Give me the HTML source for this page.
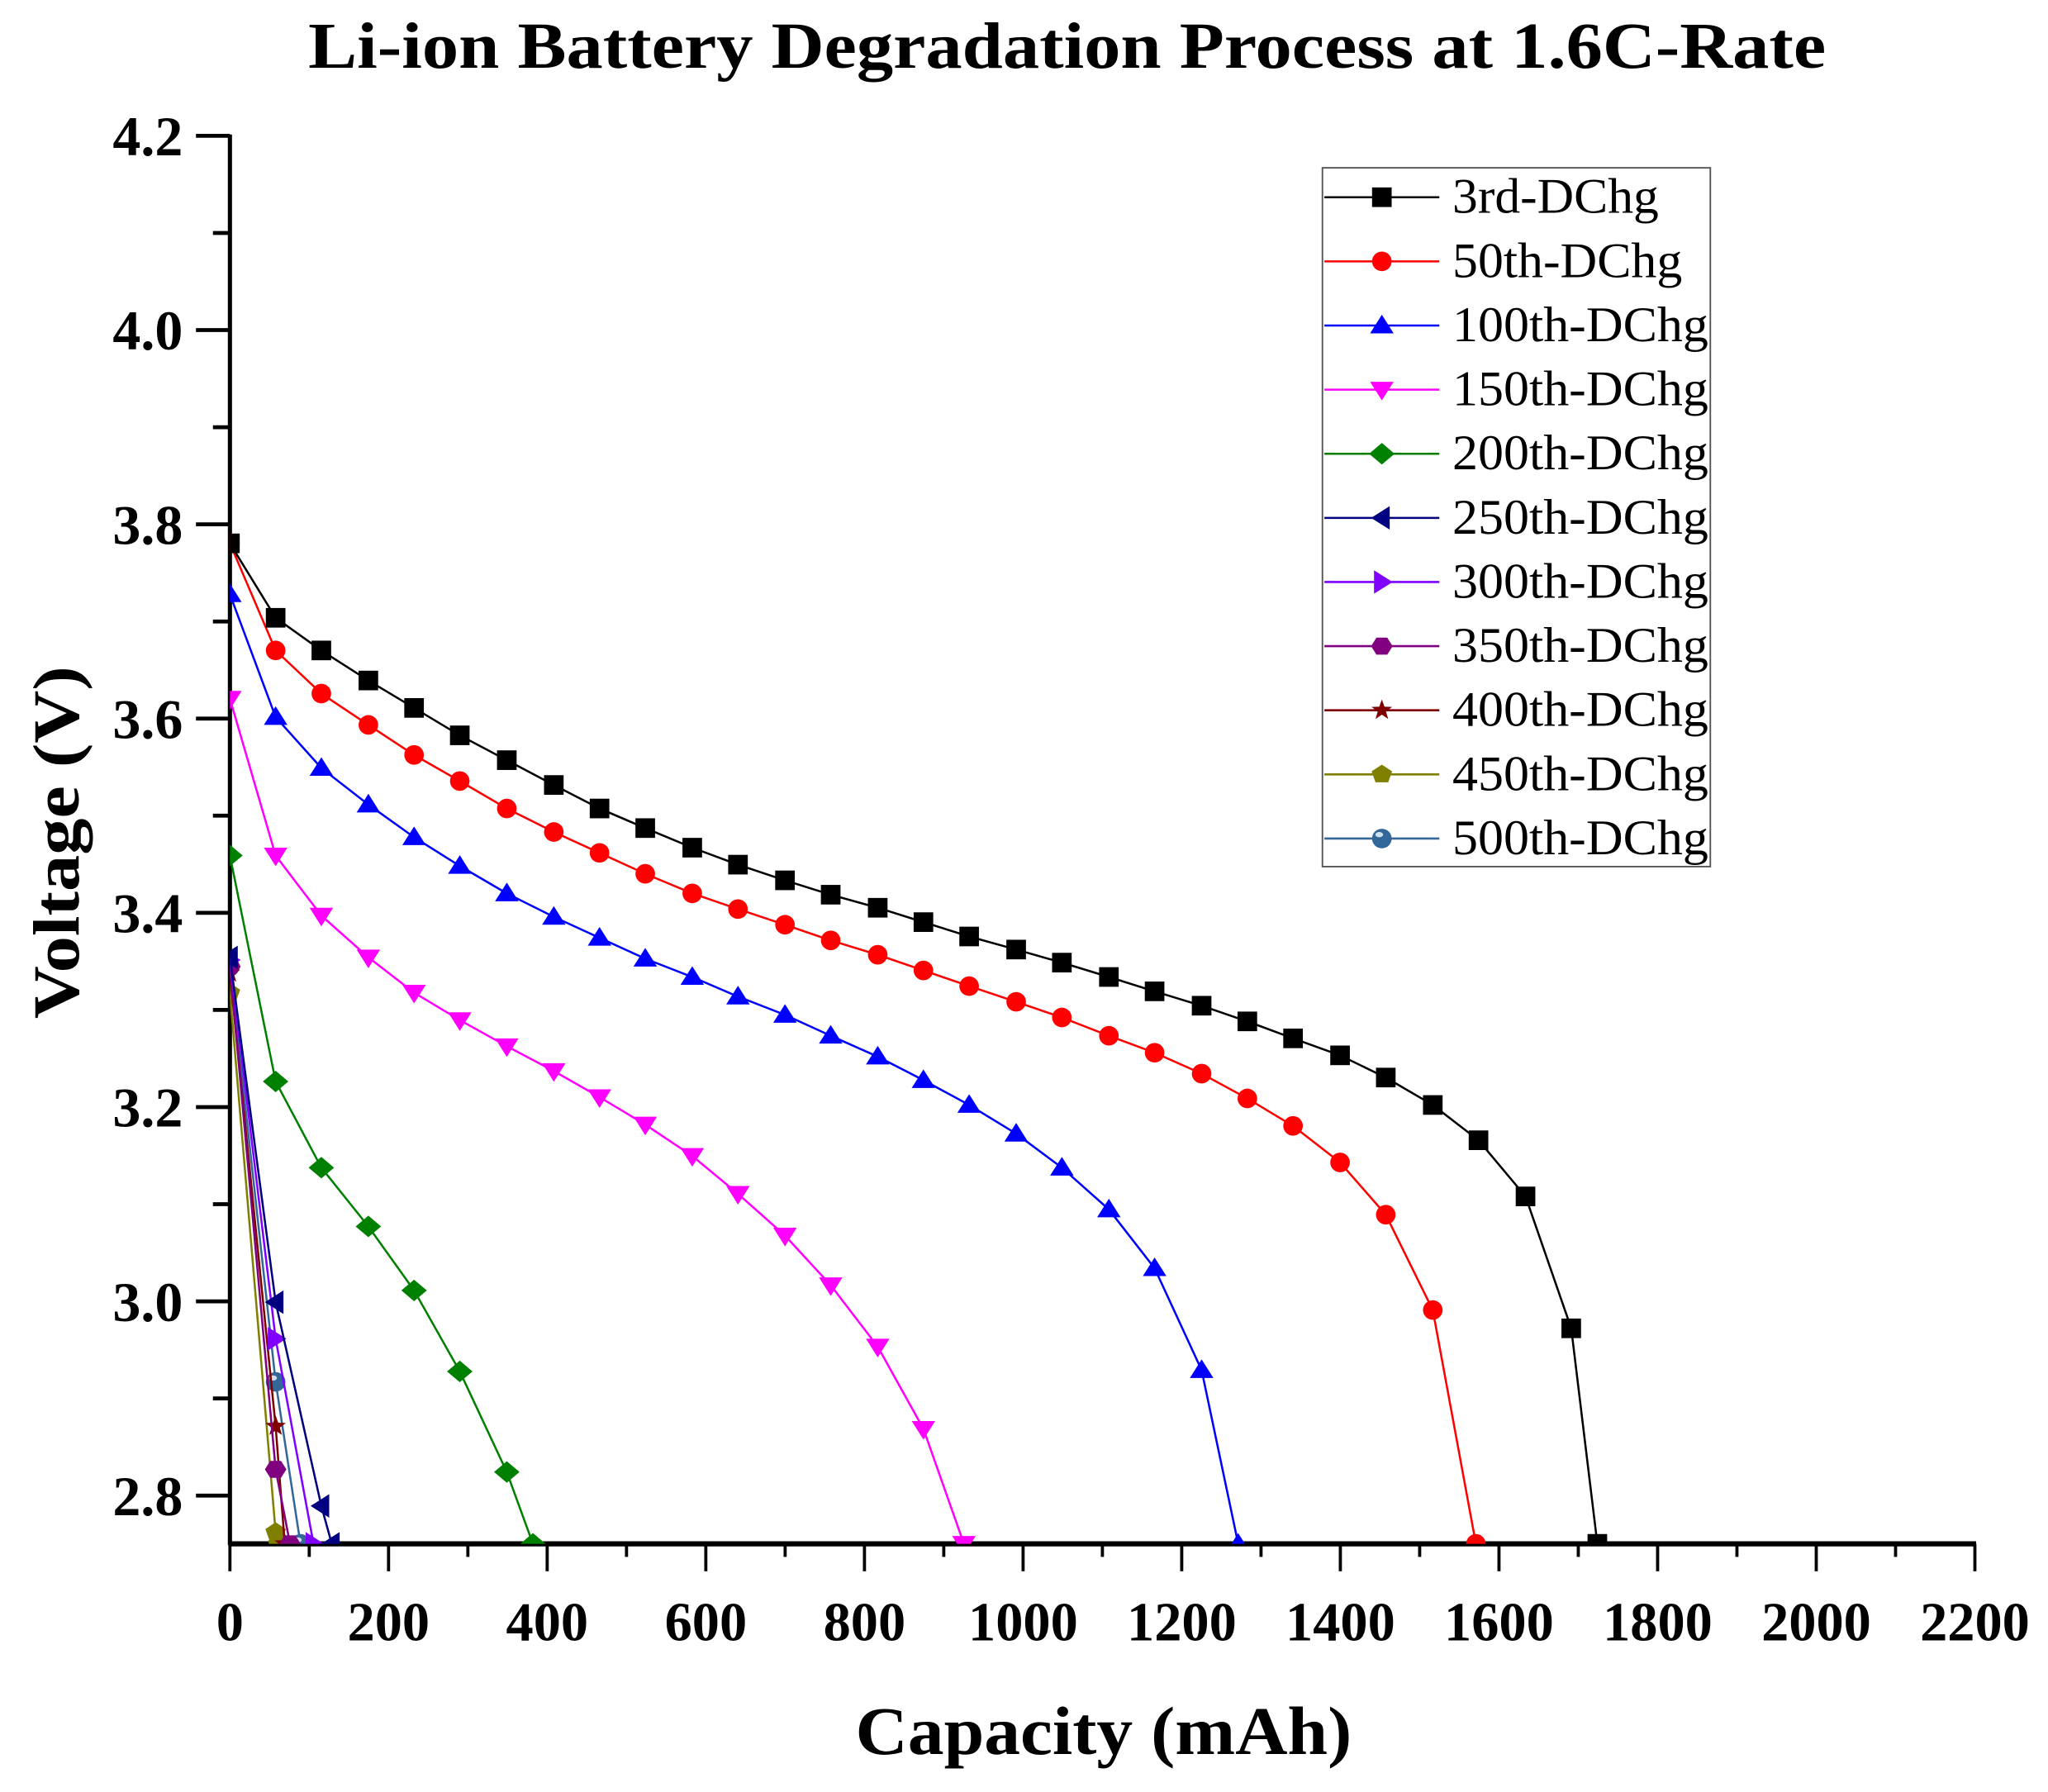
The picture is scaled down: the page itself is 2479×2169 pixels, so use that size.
<!DOCTYPE html>
<html><head><meta charset="utf-8">
<style>html,body{margin:0;padding:0;background:#fff;}svg{display:block;}</style>
</head><body>
<svg id="s" width="2479" height="2169" viewBox="0 0 1568 1372" xmlns="http://www.w3.org/2000/svg" font-family="'Liberation Serif', serif">
<defs><clipPath id="c"><rect x="176" y="60" width="1400" height="1122"/></clipPath></defs>
<text x="817" y="52" text-anchor="middle" font-size="50" font-weight="bold" textLength="1162" lengthAdjust="spacingAndGlyphs">Li-ion Battery Degradation Process at 1.6C-Rate</text>
<text transform="translate(60,645) rotate(-90)" text-anchor="middle" font-size="50" font-weight="bold" textLength="270" lengthAdjust="spacingAndGlyphs">Voltage (V)</text>
<text x="845" y="1343" text-anchor="middle" font-size="52" font-weight="bold" textLength="380" lengthAdjust="spacingAndGlyphs">Capacity (mAh)</text>
<g id="axes"></g>
<g id="data" clip-path="url(#c)"></g>
<g id="leg"></g>
</svg>
<script>
var NS="http://www.w3.org/2000/svg";
function el(p,t,a,txt){var e=document.createElementNS(NS,t);for(var k in a)e.setAttribute(k,a[k]);if(txt!==undefined)e.textContent=txt;p.appendChild(e);return e;}
var ax=document.getElementById('axes'),dg=document.getElementById('data'),lg=document.getElementById('leg');
el(ax,'line',{x1:176,y1:103,x2:176,y2:1183,stroke:'#000','stroke-width':3.2});
el(ax,'line',{x1:175,y1:1182,x2:1513,y2:1182,stroke:'#000','stroke-width':4});
for(var i=0;i<=14;i++){var v=4.2-i*0.1;var y=104+i*74.36;if(y>1183)break;var maj=(i%2==0);
 el(ax,'line',{x1:maj?150:163,y1:y,x2:176,y2:y,stroke:'#000','stroke-width':3});
 if(maj) el(ax,'text',{x:140,y:y+15,'text-anchor':'end','font-size':43,'font-weight':'bold'},v.toFixed(1));}
for(var i=0;i<=22;i++){var x=176+i*60.73;var maj=(i%2==0);
 el(ax,'line',{x1:x,y1:1182,x2:x,y2:maj?1203:1192,stroke:'#000','stroke-width':2.4});
 if(maj) el(ax,'text',{x:x,y:1256,'text-anchor':'middle','font-size':42,'font-weight':'bold'},String(i*100));}
function marker(p,type,x,y,c,r){r=r||7.5;
 var pts;
 switch(type){
 case 'sq':el(p,'rect',{x:x-r,y:y-r,width:2*r,height:2*r,fill:c});return;
 case 'ci':el(p,'circle',{cx:x,cy:y,r:r,fill:c});return;
 case 'sp':el(p,'circle',{cx:x,cy:y,r:r,fill:c});el(p,'ellipse',{cx:x-2,cy:y-3,rx:3,ry:2,fill:'#cfe0f0'});return;
 case 'tu':pts=[[x,y-r*1.1],[x+r*1.2,y+r*0.8],[x-r*1.2,y+r*0.8]];break;
 case 'td':pts=[[x,y+r*1.1],[x+r*1.2,y-r*0.8],[x-r*1.2,y-r*0.8]];break;
 case 'tl':pts=[[x-r*1.1,y],[x+r*0.8,y-r*1.2],[x+r*0.8,y+r*1.2]];break;
 case 'tr':pts=[[x+r*1.1,y],[x-r*0.8,y-r*1.2],[x-r*0.8,y+r*1.2]];break;
 case 'di':pts=[[x,y-r*1.1],[x+r*1.3,y],[x,y+r*1.1],[x-r*1.3,y]];break;
 case 'hx':pts=[];for(var k=0;k<6;k++){var a=Math.PI/3*k;pts.push([x+r*1.1*Math.cos(a),y+r*Math.sin(a)]);}break;
 case 'pe':pts=[];for(var k=0;k<5;k++){var a=-Math.PI/2+2*Math.PI/5*k;pts.push([x+r*1.1*Math.cos(a),y+r*Math.sin(a)]);}break;
 case 'st':pts=[];for(var k=0;k<10;k++){var a=-Math.PI/2+Math.PI/5*k;var rr=(k%2?r*0.45:r*1.1);pts.push([x+rr*Math.cos(a),y+rr*Math.sin(a)]);}break;
 }
 el(p,'polygon',{points:pts.map(function(q){return q.join(',')}).join(' '),fill:c});}
var S=[
 ['3rd-DChg','#000000','sq',[[176,416],[211,473],[246,498],[282,521],[317,542],[352,563],[388,582],[424,601],[459,619],[494,634],[530,649],[565,662],[601,674],[636,685],[672,695],[707,706],[742,717],[778,727],[813,737],[849,748],[884,759],[920,770],[955,782],[990,795],[1026,808],[1061,825],[1097,846],[1132,873],[1168,916],[1203,1017],[1223,1182]]],
 ['50th-DChg','#ff0000','ci',[[176,416],[211,498],[246,531],[282,555],[317,578],[352,598],[388,619],[424,637],[459,653],[494,669],[530,684],[565,696],[601,708],[636,720],[672,731],[707,743],[742,755],[778,767],[813,779],[849,793],[884,806],[920,822],[955,841],[990,862],[1026,890],[1061,930],[1097,1003],[1130,1182]]],
 ['100th-DChg','#0000ff','tu',[[176,455],[211,549],[246,588],[282,616],[317,641],[352,663],[388,684],[424,702],[459,718],[494,734],[530,748],[565,763],[601,777],[636,793],[672,809],[707,827],[742,846],[778,868],[813,894],[849,926],[884,971],[920,1049],[948,1182]]],
 ['150th-DChg','#ff00ff','td',[[176,535],[211,655],[246,701],[282,733],[317,760],[352,781],[388,801],[424,820],[459,840],[494,861],[530,885],[565,914],[601,946],[636,984],[672,1031],[707,1094],[738,1182]]],
 ['200th-DChg','#008000','di',[[176,655],[211,828],[246,894],[282,939],[317,988],[352,1050],[388,1127],[408,1182]]],
 ['250th-DChg','#000080','tl',[[176,733],[211,997],[246,1153],[254,1182]]],
 ['300th-DChg','#8000ff','tr',[[176,735],[211,1025],[240,1182]]],
 ['350th-DChg','#800080','hx',[[176,740],[211,1125],[222,1182]]],
 ['400th-DChg','#800000','st',[[176,745],[211,1092],[218,1182]]],
 ['450th-DChg','#808000','pe',[[176,760],[211,1173],[213,1182]]],
 ['500th-DChg','#336699','sp',[[176,740],[211,1058],[230,1182]]]
];
for(var j=S.length-1;j>=0;j--){var s=S[j];
 el(dg,'polyline',{points:s[3].map(function(q){return q.join(',')}).join(' '),fill:'none',stroke:s[1],'stroke-width':1.6});
 s[3].forEach(function(q){marker(dg,s[2],q[0],q[1],s[1]);});}
el(lg,'rect',{x:1012.5,y:128.5,width:297,height:535,fill:'#fff',stroke:'#555','stroke-width':1.2});
S.forEach(function(s,i){var y=151+i*49.1;
 el(lg,'line',{x1:1014,y1:y,x2:1102,y2:y,stroke:s[1],'stroke-width':1.6});
 marker(lg,s[2],1058,y,s[1],7.5);
 el(lg,'text',{x:1112,y:y+12,'font-size':38,textLength:s[0].length>9?196:(s[0]=='3rd-DChg'?158:176),lengthAdjust:'spacingAndGlyphs'},s[0]);});
</script>
</body></html>
